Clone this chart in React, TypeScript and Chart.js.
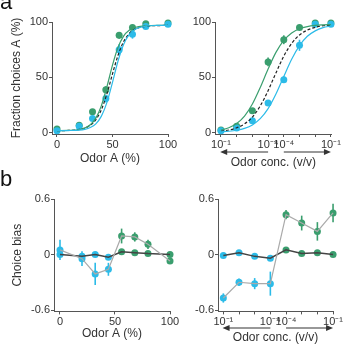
import React, { useEffect, useRef } from "react";
import { Chart, registerables } from "chart.js";
Chart.register(...registerables);

const FONT = "'Liberation Sans', Arial, Helvetica, sans-serif";
const AXIS = "#555";
const TEXT = "#333";
const GREEN = "#3a9e6e";
const BLUE = "#2cbbe8";

// ---- Panel a, left: fraction choices vs Odor A (%)
const odorA = [0, 20, 32, 44, 56, 68, 80, 100];
const fracA_green = [3.5, 7, 19, 39, 88, 95, 98.5, 99];
const fracA_greenErr = [1, 1.5, 2, 3, 3, 2, 1.5, 1];
const fracA_blue = [2, 6, 13, 31, 75, 89, 96, 98];
const fracA_blueErr = [1, 1.5, 2, 3.5, 5, 4, 2, 1];
const curveA_x = [0, 10, 20, 25, 30, 35, 40, 45, 50, 55, 60, 65, 70, 80, 90, 100];
const curveA_green = [2.0, 2.2, 3.0, 4.4, 7.3, 13.3, 24.6, 41.7, 61.1, 77.2, 87.3, 92.5, 95.0, 96.6, 97, 97];
const curveA_mean = [2, 2.2, 3.1, 4.3, 6.9, 11.9, 21, 35.3, 53.2, 70, 82.2, 89.5, 93.4, 96.2, 96.7, 97];
const curveA_blue = [2, 2.1, 2.5, 3.2, 4.8, 8.2, 15.1, 27.5, 45.6, 64.8, 79.7, 88.6, 93.2, 96.2, 96.9, 97];

// ---- Panel a, right: fraction choices vs odor concentration
const concIdx = [0, 1, 2, 3, 4, 5, 6, 7];
const concLabels = ["10⁻¹", "", "", "10⁻⁴", "10⁻⁴", "", "", "10⁻¹"];
const fracC_green = [2.5, 6, 20, 64, 84, 95, 99, 99];
const fracC_greenErr = [1, 1, 2, 4, 4, 2, 1, 1];
const fracC_blue = [2, 4.5, 11, 27, 48, 79, 98, 98];
const fracC_blueErr = [1, 1, 2, 2.5, 3, 5, 1.5, 1];
const curveC_x = [0, 0.5, 1, 1.5, 2, 2.5, 3, 3.5, 4, 4.5, 5, 5.5, 6, 6.5, 7];
const curveC_green = [2.6, 4.6, 8.4, 15.1, 26, 40.9, 57.6, 72.6, 83.4, 90.1, 93.9, 95.9, 96.9, 97.4, 97.7];
const curveC_mean = [1.6, 2.6, 4.6, 8.1, 14.3, 24.3, 38.1, 54.1, 69.2, 80.7, 88.3, 92.7, 95.2, 96.6, 97.3];
const curveC_blue = [1.0, 1.5, 2.4, 4.1, 7.2, 12.8, 21.9, 35.1, 50.9, 66.4, 78.7, 87.1, 92, 94.9, 96.4];

// ---- Panel b, left: choice bias vs Odor A (%)
const biasA = [0.05, -0.045, -0.21, -0.16, 0.2, 0.19, 0.11, -0.07];
const biasAErr = [0.11, 0.08, 0.12, 0.07, 0.08, 0.05, 0.05, 0.02];
const modelA = [0, -0.02, 0, -0.03, 0.03, 0.02, 0.01, 0];

// ---- Panel b, right: choice bias vs odor concentration
const biasC = [-0.47, -0.3, -0.315, -0.315, 0.43, 0.34, 0.25, 0.45];
const biasCErr = [0.05, 0.04, 0.06, 0.13, 0.05, 0.08, 0.1, 0.1];
const modelC = [-0.01, 0.02, -0.02, -0.04, 0.05, 0.01, 0.02, 0];

const pts = (xs: number[], ys: number[]) => xs.map((x, i) => ({ x, y: ys[i] }));
const sideColors = (n: number) => Array.from({ length: n }, (_, i) => (i < n / 2 ? BLUE : GREEN));

function errPlugin(sets: { xs: number[]; ys: number[]; errs: number[]; colors: string[] }[]) {
  return {
    id: "errbars",
    beforeDatasetsDraw(chart: any) {
      const { ctx } = chart;
      const xs = chart.scales.x;
      const ys = chart.scales.y;
      sets.forEach((s) => {
        s.xs.forEach((xv, i) => {
          const e = s.errs[i];
          if (!e) return;
          const px = xs.getPixelForValue(xv);
          ctx.save();
          ctx.strokeStyle = s.colors[i];
          ctx.lineWidth = 1.6;
          ctx.beginPath();
          ctx.moveTo(px, ys.getPixelForValue(s.ys[i] - e));
          ctx.lineTo(px, ys.getPixelForValue(s.ys[i] + e));
          ctx.stroke();
          ctx.restore();
        });
      });
    },
  };
}

function arrowPlugin(offset: number) {
  return {
    id: "arrows",
    afterDraw(chart: any) {
      const { ctx, chartArea } = chart;
      const xs = chart.scales.x;
      const y = chartArea.bottom + offset;
      const draw = (from: number, to: number) => {
        const x1 = xs.getPixelForValue(from);
        const x2 = xs.getPixelForValue(to);
        const dir = Math.sign(x2 - x1);
        ctx.save();
        ctx.strokeStyle = "#333";
        ctx.fillStyle = "#333";
        ctx.lineWidth = 1.2;
        ctx.beginPath();
        ctx.moveTo(x1, y);
        ctx.lineTo(x2 - dir * 5, y);
        ctx.stroke();
        ctx.beginPath();
        ctx.moveTo(x2, y);
        ctx.lineTo(x2 - dir * 7, y - 3);
        ctx.lineTo(x2 - dir * 7, y + 3);
        ctx.closePath();
        ctx.fill();
        ctx.restore();
      };
      draw(3.0, -0.05);
      draw(4.0, 7.0);
    },
  };
}

function axis(opts: {
  min: number;
  max: number;
  ticks: number[];
  label: (v: number, i: number) => string;
  size: number;
  isY: boolean;
  title?: string;
}) {
  return {
    type: "linear",
    min: opts.min,
    max: opts.max,
    afterBuildTicks: (s: any) => {
      s.ticks = opts.ticks.map((v) => ({ value: v }));
    },
    afterFit: (s: any) => {
      if (opts.isY) s.width = opts.size;
      else s.height = opts.size;
    },
    grid: { display: true, drawOnChartArea: false, drawTicks: true, tickLength: 3, color: AXIS, lineWidth: 1 },
    border: { display: true, color: AXIS, width: 1 },
    ticks: {
      font: { family: FONT, size: 11 },
      color: TEXT,
      padding: 1,
      autoSkip: false,
      maxRotation: 0,
      minRotation: 0,
      callback: (v: any, i: number) => opts.label(Number(v), i),
    },
    title: {
      display: !!opts.title,
      text: opts.title || "",
      font: { family: FONT, size: 12 },
      color: TEXT,
      padding: 0,
    },
  };
}

const curveDs = (xs: number[], ys: number[], color: string, dash: number[] = []) => ({
  data: pts(xs, ys),
  showLine: true,
  borderColor: color,
  borderWidth: 1.2,
  borderDash: dash,
  pointRadius: 0,
  cubicInterpolationMode: "monotone",
  clip: false,
});

const pointDs = (xs: number[], ys: number[], color: string | string[]) => ({
  data: pts(xs, ys),
  showLine: false,
  pointRadius: 3.5,
  pointBackgroundColor: color,
  pointBorderColor: color,
  pointBorderWidth: 0,
  clip: false,
});

const lineDs = (xs: number[], ys: number[], color: string, width: number) => ({
  data: pts(xs, ys),
  showLine: true,
  borderColor: color,
  borderWidth: width,
  pointRadius: 0,
  tension: 0,
  clip: false,
});

const baseOptions = (padding: any, scales: any) => ({
  responsive: false,
  animation: false,
  events: [],
  layout: { padding },
  plugins: { legend: { display: false }, tooltip: { enabled: false } },
  scales,
});

function makeAL() {
  return {
    type: "scatter",
    data: {
      datasets: [
        curveDs(curveA_x, curveA_blue, BLUE),
        curveDs(curveA_x, curveA_green, GREEN),
        curveDs(curveA_x, curveA_mean, "#222", [3, 2]),
        pointDs(odorA, fracA_blue, BLUE),
        pointDs(odorA, fracA_green, GREEN),
      ],
    },
    options: baseOptions(
      { left: 9, top: 22, right: 14, bottom: 9 },
      {
        x: axis({ min: -4.5, max: 100, ticks: [0, 50, 100], label: (v) => String(v), size: 32, isY: false, title: "Odor A (%)" }),
        y: axis({ min: -1, max: 100, ticks: [0, 50, 100], label: (v) => String(v), size: 43, isY: true, title: "Fraction choices A (%)" }),
      }
    ),
    plugins: [
      errPlugin([
        { xs: odorA, ys: fracA_blue, errs: fracA_blueErr, colors: odorA.map(() => BLUE) },
        { xs: odorA, ys: fracA_green, errs: fracA_greenErr, colors: odorA.map(() => GREEN) },
      ]),
    ],
  };
}

function makeAR() {
  return {
    type: "scatter",
    data: {
      datasets: [
        curveDs(curveC_x, curveC_blue, BLUE),
        curveDs(curveC_x, curveC_green, GREEN),
        curveDs(curveC_x, curveC_mean, "#222", [3, 2]),
        pointDs(concIdx, fracC_blue, BLUE),
        pointDs(concIdx, fracC_green, GREEN),
      ],
    },
    options: baseOptions(
      { left: 0, top: 22, right: 12.3, bottom: 4.8 },
      {
        x: axis({ min: -0.38, max: 7.05, ticks: concIdx, label: (_v, i) => concLabels[i] || "", size: 36.2, isY: false, title: "Odor conc. (v/v)" }),
        y: axis({ min: -1, max: 100, ticks: [0, 50, 100], label: (v) => String(v), size: 33, isY: true }),
      }
    ),
    plugins: [
      errPlugin([
        { xs: concIdx, ys: fracC_blue, errs: fracC_blueErr, colors: concIdx.map(() => BLUE) },
        { xs: concIdx, ys: fracC_green, errs: fracC_greenErr, colors: concIdx.map(() => GREEN) },
      ]),
      arrowPlugin(18),
    ],
  };
}

const biasLabel = (v: number) => (Math.abs(v) < 1e-9 ? "0" : v.toFixed(1));

function makeBL() {
  return {
    type: "scatter",
    data: {
      datasets: [
        lineDs(odorA, biasA, "#aaaaaa", 1.2),
        lineDs(odorA, modelA, "#444", 1.5),
        pointDs(odorA, biasA, sideColors(odorA.length)),
        pointDs(odorA, modelA, sideColors(odorA.length)),
      ],
    },
    options: baseOptions(
      { left: 10.8, top: 24, right: 12, bottom: 5.8 },
      {
        x: axis({ min: -5.45, max: 100, ticks: [0, 50, 100], label: (v) => String(v), size: 29.8, isY: false, title: "Odor A (%)" }),
        y: axis({ min: -0.615, max: 0.6, ticks: [-0.6, 0, 0.6], label: biasLabel, size: 43.2, isY: true, title: "Choice bias" }),
      }
    ),
    plugins: [errPlugin([{ xs: odorA, ys: biasA, errs: biasAErr, colors: sideColors(odorA.length) }])],
  };
}

function makeBR() {
  return {
    type: "scatter",
    data: {
      datasets: [
        lineDs(concIdx, biasC, "#aaaaaa", 1.2),
        lineDs(concIdx, modelC, "#444", 1.5),
        pointDs(concIdx, biasC, sideColors(concIdx.length)),
        pointDs(concIdx, modelC, sideColors(concIdx.length)),
      ],
    },
    options: baseOptions(
      { left: 0, top: 24, right: 10.7, bottom: 1.8 },
      {
        x: axis({ min: -0.34, max: 7.0, ticks: concIdx, label: (_v, i) => concLabels[i] || "", size: 33.8, isY: false, title: "Odor conc. (v/v)" }),
        y: axis({ min: -0.615, max: 0.6, ticks: [-0.6, 0, 0.6], label: biasLabel, size: 36, isY: true }),
      }
    ),
    plugins: [
      errPlugin([{ xs: concIdx, ys: biasC, errs: biasCErr, colors: sideColors(concIdx.length) }]),
      arrowPlugin(16.6),
    ],
  };
}

function ChartBox(props: { left: number; top: number; width: number; height: number; make: () => any }) {
  const ref = useRef<HTMLCanvasElement>(null);
  useEffect(() => {
    const chart = new Chart(ref.current as HTMLCanvasElement, props.make());
    return () => chart.destroy();
  }, []);
  const { left, top, width, height } = props;
  return (
    <div style={{ position: "absolute", left, top, width, height }}>
      <canvas ref={ref} width={width} height={height} style={{ width, height, display: "block" }} />
    </div>
  );
}

const letterStyle: React.CSSProperties = {
  position: "absolute",
  fontFamily: FONT,
  fontSize: 22,
  lineHeight: "22px",
  color: "#111",
};

export default function App() {
  return (
    <div style={{ position: "fixed", left: 0, top: 0, width: 344, height: 347, background: "#fff", overflow: "hidden" }}>
      <ChartBox left={0} top={0} width={182} height={175} make={makeAL} />
      <ChartBox left={182} top={0} width={162} height={175} make={makeAR} />
      <ChartBox left={0} top={175} width={182} height={172} make={makeBL} />
      <ChartBox left={182} top={175} width={162} height={172} make={makeBR} />
      <div style={{ ...letterStyle, left: 0, top: -9 }}>a</div>
      <div style={{ ...letterStyle, left: 0, top: 168 }}>b</div>
    </div>
  );
}
